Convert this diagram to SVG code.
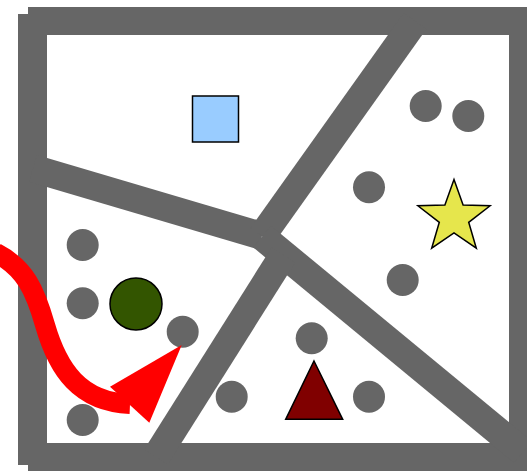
<svg xmlns="http://www.w3.org/2000/svg" width="527" height="471" viewBox="0 0 527 471">
  <style>
    .wall { stroke: #666666; stroke-width: 28; fill: none; stroke-linecap: butt; }
    .dot { fill: #666666; }
    .outline { stroke: #000000; stroke-width: 1.5; }
  </style>
  <rect x="0" y="0" width="527" height="471" fill="#ffffff"/>
  <g id="walls">
    <path id="frame" fill="#666666" fill-rule="evenodd" d="M28,7 H527 V471 H28 V465 H18 V14 H28 Z M47,35 V443 H509 V35 Z"/>
    <line class="wall" x1="33" y1="168.4" x2="262" y2="236"/>
    <line class="wall" x1="415" y1="21" x2="262" y2="236"/>
    <line class="wall" x1="523" y1="452" x2="262" y2="236.5"/>
    <line class="wall" x1="156" y1="457" x2="283.4" y2="255"/>
  </g>
  <g id="dots">
    <circle class="dot" cx="425.7" cy="106" r="16"/>
    <circle class="dot" cx="468.3" cy="116" r="16"/>
    <circle class="dot" cx="369" cy="187.3" r="16"/>
    <circle class="dot" cx="402.7" cy="280" r="16"/>
    <circle class="dot" cx="311.7" cy="338.3" r="16"/>
    <circle class="dot" cx="369" cy="396.7" r="16"/>
    <circle class="dot" cx="231.7" cy="396.7" r="16"/>
    <circle class="dot" cx="82.7" cy="245" r="16"/>
    <circle class="dot" cx="82.7" cy="303.3" r="16"/>
    <circle class="dot" cx="182.7" cy="331.7" r="16"/>
    <circle class="dot" cx="82.7" cy="420" r="16"/>
  </g>
  <g id="square">
    <rect class="outline" x="192.5" y="96" width="46" height="46" fill="#99ccff"/>
  </g>
  <g id="star">
    <polygon class="outline" fill="#e6e64c" points="454,179.5 463.1,205 490.1,205.8 468.7,222.3 476.3,248.2 454,233 431.7,248.2 439.3,222.3 417.9,205.8 444.9,205"/>
  </g>
  <g id="triangle">
    <polygon class="outline" fill="#800000" points="314,361 342.7,419.3 285.7,419.3"/>
  </g>
  <g id="green-circle">
    <circle class="outline" cx="136" cy="304" r="26" fill="#335500"/>
  </g>
  <g id="connectors">
    <path d="M-4,253 C25,268 35,290 45,325 C58,370 80,402 130,404" fill="none" stroke="#ff0000" stroke-width="20"/>
    <polygon points="181.7,345 110,386.7 149.3,422.7" fill="#ff0000"/>
  </g>
</svg>
